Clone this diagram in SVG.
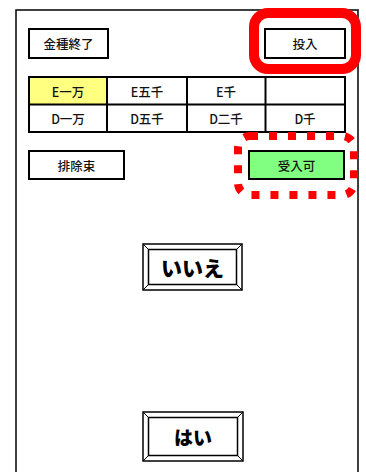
<svg xmlns="http://www.w3.org/2000/svg" width="366" height="472" viewBox="0 0 366 472">
<style>
.btn{fill:#fff;stroke:#000;stroke-width:2}
.t{font-family:"Noto Sans CJK JP","Liberation Sans",sans-serif;font-size:12.5px;font-weight:500;fill:#111;text-anchor:middle;dominant-baseline:central}
.big{font-family:"Noto Sans CJK JP","Liberation Sans",sans-serif;font-weight:900;fill:#000;text-anchor:middle;dominant-baseline:central}
.bev{fill:#fff;stroke:#000;stroke-width:1.5}
.bl{stroke:#000;stroke-width:1}
</style>
<rect width="366" height="472" fill="#fff"/>
<g id="frame"><rect x="16" y="10" width="342" height="480" fill="none" stroke="#000" stroke-width="1.5"/></g>
<g id="kinshu"><rect class="btn" x="29" y="29" width="79" height="29"/><text class="t" x="68.5" y="43.5">金種終了</text></g>
<g id="tounyu"><rect class="btn" x="265" y="29" width="80" height="29"/><text class="t" x="305" y="43.5">投入</text></g>
<g id="highlight-solid"><rect x="254" y="13" width="102" height="56" rx="14" fill="none" stroke="#f00" stroke-width="10"/></g>
<g id="table">
<rect x="29" y="77" width="78" height="27.5" fill="#ffff80"/>
<rect x="29" y="77" width="316" height="55" fill="none" stroke="#000" stroke-width="2"/>
<line x1="29" y1="104.5" x2="345" y2="104.5" stroke="#000" stroke-width="2"/>
<line x1="107" y1="77" x2="107" y2="132" stroke="#000" stroke-width="2"/>
<line x1="187" y1="77" x2="187" y2="132" stroke="#000" stroke-width="2"/>
<line x1="265.5" y1="77" x2="265.5" y2="132" stroke="#000" stroke-width="2"/>
<text class="t" x="68" y="91">E一万</text>
<text class="t" x="147" y="91">E五千</text>
<text class="t" x="226" y="91">E千</text>
<text class="t" x="68" y="118.5">D一万</text>
<text class="t" x="147" y="118.5">D五千</text>
<text class="t" x="226" y="118.5">D二千</text>
<text class="t" x="305" y="118.5">D千</text>
</g>
<g id="haijo"><rect class="btn" x="29" y="151" width="95" height="28"/><text class="t" x="76.5" y="165">排除束</text></g>
<g id="ukeire"><rect x="249" y="151" width="95" height="28" fill="#80ff80" stroke="#000" stroke-width="2"/><text class="t" x="296.5" y="165">受入可</text></g>
<g id="highlight-dotted"><rect x="238" y="136" width="116" height="59" rx="12" fill="none" stroke="#f00" stroke-width="8" stroke-dasharray="8 11"/></g>
<g id="iie">
<rect class="bev" x="143" y="244" width="99" height="46"/>
<rect class="bev" x="148.5" y="249.5" width="88" height="35"/>
<line class="bl" x1="143" y1="244" x2="148.5" y2="249.5"/><line class="bl" x1="242" y1="244" x2="236.5" y2="249.5"/>
<line class="bl" x1="143" y1="290" x2="148.5" y2="284.5"/><line class="bl" x1="242" y1="290" x2="236.5" y2="284.5"/>
<text class="big" x="192.5" y="267" font-size="21">いいえ</text>
</g>
<g id="hai">
<rect class="bev" x="143" y="412" width="100" height="49"/>
<rect class="bev" x="148.5" y="417.5" width="89" height="38"/>
<line class="bl" x1="143" y1="412" x2="148.5" y2="417.5"/><line class="bl" x1="243" y1="412" x2="237.5" y2="417.5"/>
<line class="bl" x1="143" y1="461" x2="148.5" y2="455.5"/><line class="bl" x1="243" y1="461" x2="237.5" y2="455.5"/>
<text class="big" x="193" y="436.5" font-size="19">はい</text>
</g>
<g id="connectors"></g>
</svg>
